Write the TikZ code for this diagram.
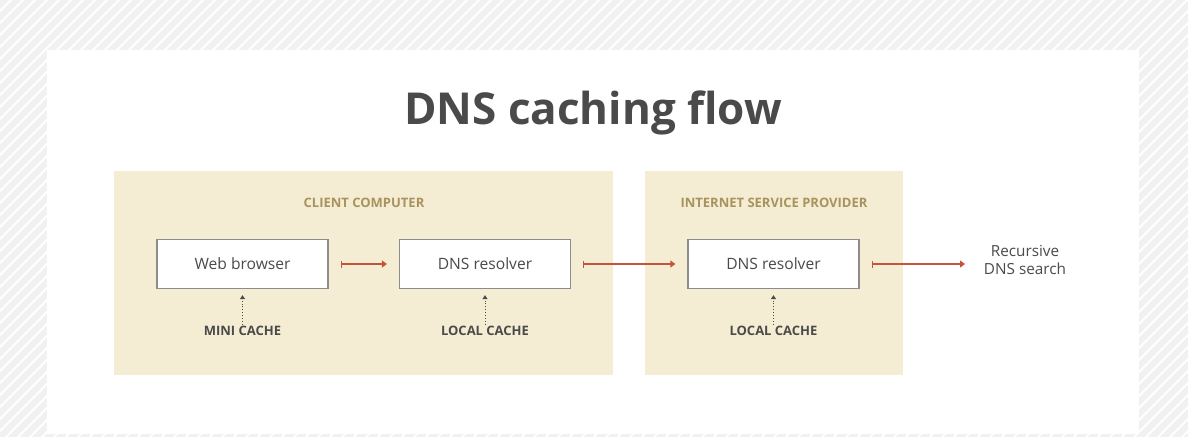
\documentclass[tikz,border=0pt]{standalone}
\usepackage{fontspec}
\setmainfont{Open Sans}
\usetikzlibrary{arrows.meta}
\definecolor{bggray}{HTML}{F1F1F1}
\definecolor{panel}{HTML}{F5EDD3}
\definecolor{paneltext}{HTML}{A8935F}
\definecolor{boxline}{HTML}{8C8C8C}
\definecolor{txt}{HTML}{4A4A4A}
\definecolor{arrowred}{HTML}{C4553C}
\tikzset{
  panelbox/.style={fill=panel, draw=none},
  procbox/.style={draw=boxline, line width=1.2pt, fill=white, minimum width=171pt, minimum height=49pt, inner sep=0pt, font=\fontsize{15.6}{18}\selectfont, text=txt},
  paneltitle/.style={font=\fontsize{13}{15}\selectfont\bfseries, text=paneltext},
  cachelabel/.style={font=\fontsize{13}{15}\selectfont\bfseries, text=txt},
  flow/.style={draw=arrowred, line width=1.2pt, {Bar[width=7pt,line width=1.2pt]}-{Triangle[length=5pt,width=7pt]}},
  cachearrow/.style={draw=txt, line width=0.9pt, dotted, -{Triangle[length=4pt,width=5pt]}},
}
\begin{document}
\begin{tikzpicture}[x=1pt,y=-1pt]
\useasboundingbox (0,0) rectangle (1188,437);
% background stripes
\fill[bggray] (0,0) rectangle (1188,437);
\begin{scope}
\clip (0,0) rectangle (1188,437);
\foreach \i in {0,12,...,1650} {
  \draw[white, line width=2pt] (\i-450,437) -- (\i,-13);
}
\end{scope}
% card
\fill[white] (47,50) rectangle (1139,434);
% title
\node[font=\fontsize{44}{50}\selectfont\bfseries, text=txt] (title) at (593,113) {DNS caching flow};
% panels
\fill[panelbox] (114,171) rectangle (613,375);
\fill[panelbox] (645,171) rectangle (903,375);
\node[paneltitle] (clientlbl) at (364,203) {CLIENT COMPUTER};
\node[paneltitle] (isplbl) at (774,203) {INTERNET SERVICE PROVIDER};
% process boxes
\node[procbox] (web) at (242.5,264) {Web browser};
\node[procbox] (res1) at (485,264) {DNS resolver};
\node[procbox] (res2) at (773.5,264) {DNS resolver};
\node[font=\fontsize{15.3}{18}\selectfont, text=txt, align=center] (rec) at (1025,260) {Recursive\\DNS search};
\coordinate (recin) at (965,264);
% flow arrows
\draw[flow] ([xshift=12pt]web.east) -- ([xshift=-12pt]res1.west);
\draw[flow] ([xshift=12pt]res1.east) -- ([xshift=-12pt]res2.west);
\draw[flow] ([xshift=12pt]res2.east) -- (recin);
% caches
\node[cachelabel] (c1) at (242.5,331) {MINI CACHE};
\node[cachelabel] (c2) at (485,331) {LOCAL CACHE};
\node[cachelabel] (c3) at (773.5,331) {LOCAL CACHE};
\draw[cachearrow] ([yshift=-2pt]c1.north) -- ([yshift=-6pt]web.south);
\draw[cachearrow] ([yshift=-2pt]c2.north) -- ([yshift=-6pt]res1.south);
\draw[cachearrow] ([yshift=-2pt]c3.north) -- ([yshift=-6pt]res2.south);
\end{tikzpicture}
\end{document}
